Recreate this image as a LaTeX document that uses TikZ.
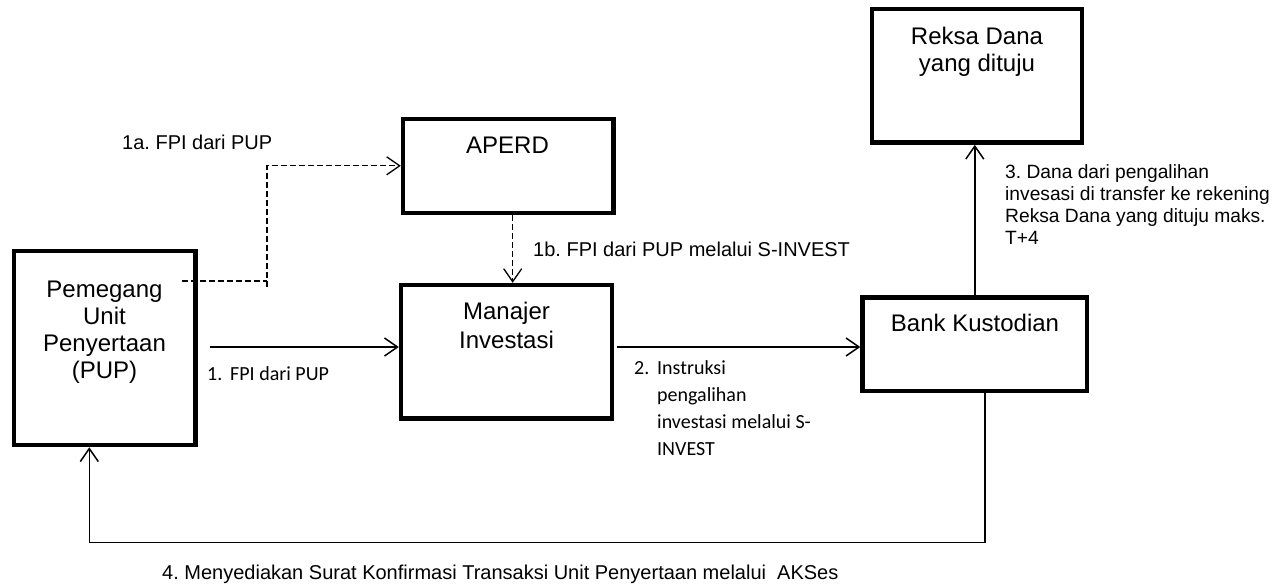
\documentclass[tikz,border=0pt]{standalone}
\usepackage{fontspec}
\setmainfont{Liberation Sans}
\newfontfamily\calibrifont{Carlito}
\usetikzlibrary{arrows.meta}
\frenchspacing
\begin{document}
\begin{tikzpicture}[x=1pt,y=-1pt,
  box/.style={draw, line width=4.5pt, inner sep=0pt},
  boxtext/.style={inner sep=0pt, align=center, anchor=base},
  lbl/.style={inner sep=0pt, anchor=base west, font=\fontsize{20}{23}\selectfont},
  callbl/.style={inner sep=0pt, anchor=base west, align=left, font=\calibrifont\fontsize{20}{26.7}\selectfont},
  conn/.style={line width=1.5pt, -{Straight Barb[length=13pt,width=18pt]}},
  dsh/.style={line width=1.3pt, dash pattern=on 6pt off 3pt}]
\useasboundingbox (0,0) rectangle (1274,586);

% boxes
\node[box, minimum width=181.5pt, minimum height=194pt] (pup) at (104.5,348) {};
\node[box, minimum width=210.3pt, minimum height=94pt] (aperd) at (508.2,165.8) {};
\node[box, minimum width=210.7pt, minimum height=133.3pt] (mi) at (506.4,351.7) {};
\node[box, minimum width=210.3pt, minimum height=133.5pt] (rd) at (976.9,75.8) {};
\node[box, minimum width=224.5pt, minimum height=93.3pt] (bk) at (974.8,344.2) {};

% box texts (base = baseline of last line)
\node[boxtext, font=\fontsize{24}{27}\selectfont] (puptxt) at (104.5,378) {Pemegang\\Unit\\Penyertaan\\(PUP)};
\node[boxtext, font=\fontsize{24}{28}\selectfont] (aperdtxt) at (507.5,153.3) {APERD};
\node[boxtext, font=\fontsize{24}{28.8}\selectfont] (mitxt) at (506.5,348.3) {Manajer\\Investasi};
\node[boxtext, font=\fontsize{24}{27.4}\selectfont] (rdtxt) at (977,71.7) {Reksa Dana\\yang dituju};
\node[boxtext, font=\fontsize{24}{28}\selectfont] (bktxt) at (975,331.7) {Bank Kustodian};

% helper coordinates
\coordinate (s1a) at (182,281);
\coordinate (c1a) at (267,287);
\coordinate (s1) at (209.5,347);
\coordinate (s2) at (617.3,347);
\coordinate (c1b) at (512.7,0);
\coordinate (r4) at (985,542.3);
\coordinate (l4) at (89.3,542.3);

% connectors
\draw[dsh] (s1a) -- (s1a -| c1a);
\draw[dsh, conn, line width=1.3pt] (c1a) |- (aperd.west);
\draw[dsh, conn, line width=1.3pt] (aperd.south -| c1b) -- (mi.north -| c1b);
\draw[conn] (s1) -- (s1 -| mi.west);
\draw[conn] (s2) -- (s2 -| bk.west);
\draw[conn] (bk.north) -- (bk.north |- rd.south);
\draw[conn] (bk.south -| r4) -- (r4) -- (l4) -- (l4 |- pup.south);

% labels
\node[lbl] (l1a) at (122,149) {1a. FPI dari PUP};
\node[lbl] (l1b) at (533,256) {1b. FPI dari PUP melalui S-INVEST};
\node[callbl] (l1) at (207,380) {\makebox[23pt][l]{1.}FPI dari PUP};
\node[callbl] (l2) at (634,455) {\makebox[23pt][l]{2.}Instruksi\\\hspace*{23pt}pengalihan\\\hspace*{23pt}investasi melalui S-\\\hspace*{23pt}INVEST};
\node[inner sep=0pt, anchor=base west, align=left, font=\fontsize{19.2}{21.7}\selectfont] (l3) at (1005,244) {3. Dana dari pengalihan\\invesasi di transfer ke rekening\\Reksa Dana yang dituju maks.\\T+4};
\node[lbl] (l4txt) at (162,579) {4. Menyediakan Surat Konfirmasi Transaksi Unit Penyertaan melalui\ \ AKSes};
\end{tikzpicture}
\end{document}
